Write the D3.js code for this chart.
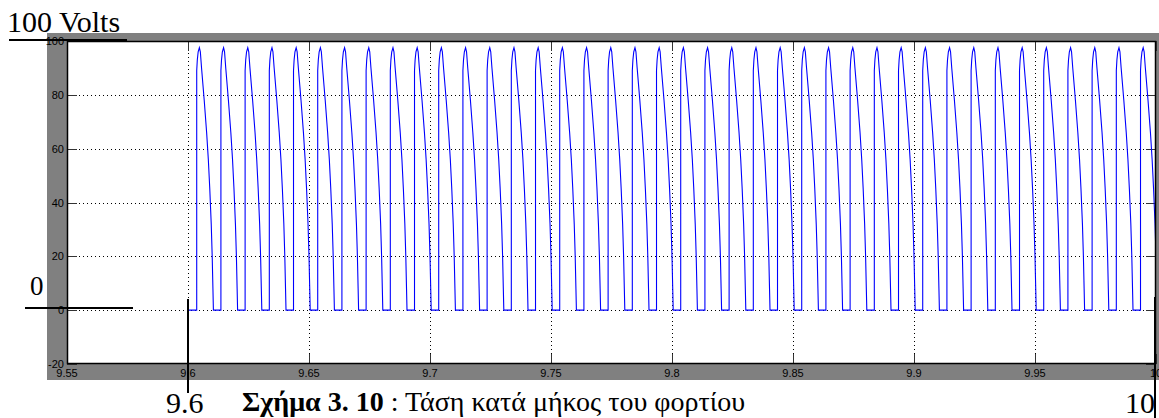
<!DOCTYPE html>
<html lang="el">
<head>
<meta charset="utf-8">
<title>Τάση κατά μήκος του φορτίου</title>
<script src="https://d3js.org/d3.v7.min.js"></script>
<style>
  body { margin: 0; background: #fff; }
  .tick-label { font-family: "Liberation Sans", Arial, sans-serif; font-size: 11px; fill: #000; }
  .note { font-family: "Liberation Serif", "Times New Roman", serif; fill: #000; }
</style>
</head>
<body>
<script>
var xTicks = [9.55, 9.6, 9.65, 9.7, 9.75, 9.8, 9.85, 9.9, 9.95, 10];
var xTickLabels = ["9.55", "9.6", "9.65", "9.7", "9.75", "9.8", "9.85", "9.9", "9.95", "10"];
var yTicks = [-20, 0, 20, 40, 60, 80, 100];
var yTickLabels = ["-20", "0", "20", "40", "60", "80", "100"];

// instant each voltage pulse rises (s)
var pulseOnsets = [
  9.6036, 9.6136, 9.6236, 9.6336, 9.6436, 9.6536, 9.6636, 9.6736, 9.6836, 9.6936,
  9.7036, 9.7136, 9.7236, 9.7336, 9.7436, 9.7536, 9.7636, 9.7736, 9.7836, 9.7936,
  9.8036, 9.8136, 9.8236, 9.8336, 9.8436, 9.8536, 9.8636, 9.8736, 9.8836, 9.8936,
  9.9036, 9.9136, 9.9236, 9.9336, 9.9436, 9.9536, 9.9636, 9.9736, 9.9836, 9.9936
];
// one pulse: [seconds after onset, volts]
var pulseShape = [
  [0, 0], [0, 89], [0.00025, 93], [0.0006, 96], [0.0011, 97.5], [0.0015, 96],
  [0.002, 90], [0.0031, 78], [0.0041, 66], [0.0048, 56], [0.0054, 45],
  [0.006, 32], [0.0064, 20], [0.0067, 8], [0.0069, 0]
];
var traceStart = 9.6, traceEnd = 10;

var width = 1159, height = 418;
var frame = { left: 47, top: 33, right: 1159, bottom: 380 };
var plot = { left: 67, top: 41, right: 1156, bottom: 364 };

var svg = d3.select("body").append("svg")
    .attr("width", width)
    .attr("height", height);

var x = d3.scaleLinear().domain([9.55, 10]).range([plot.left, plot.right]);
var y = d3.scaleLinear().domain([-20, 100]).range([plot.bottom, plot.top]);

// grey figure background and white axes area
svg.append("rect")
    .attr("x", frame.left).attr("y", frame.top)
    .attr("width", frame.right - frame.left).attr("height", frame.bottom - frame.top)
    .attr("fill", "#808080");
svg.append("rect")
    .attr("x", plot.left).attr("y", plot.top)
    .attr("width", plot.right - plot.left).attr("height", plot.bottom - plot.top)
    .attr("fill", "#fff");

// dotted grid
var grid = svg.append("g").attr("stroke", "#000").attr("stroke-width", 1)
    .attr("stroke-dasharray", "1,3").attr("shape-rendering", "crispEdges");
grid.selectAll(".gx").data(xTicks.slice(1, -1)).enter().append("line")
    .attr("x1", d => Math.round(x(d)) + 0.5).attr("x2", d => Math.round(x(d)) + 0.5)
    .attr("y1", plot.top).attr("y2", plot.bottom);
grid.selectAll(".gy").data(yTicks.slice(1, -1)).enter().append("line")
    .attr("y1", d => Math.round(y(d)) + 0.5).attr("y2", d => Math.round(y(d)) + 0.5)
    .attr("x1", plot.left).attr("x2", plot.right);

// inward ticks on all four sides
var tickLen = 10;
var ticks = svg.append("g").attr("stroke", "#333").attr("stroke-width", 1)
    .attr("shape-rendering", "crispEdges");
xTicks.forEach(function(d) {
  var px = Math.round(x(d)) + 0.5;
  ticks.append("line").attr("x1", px).attr("x2", px).attr("y1", plot.bottom).attr("y2", plot.bottom - tickLen);
  ticks.append("line").attr("x1", px).attr("x2", px).attr("y1", plot.top).attr("y2", plot.top + tickLen);
});
yTicks.forEach(function(d) {
  var py = Math.round(y(d)) + 0.5;
  ticks.append("line").attr("y1", py).attr("y2", py).attr("x1", plot.left).attr("x2", plot.left + tickLen);
  ticks.append("line").attr("y1", py).attr("y2", py).attr("x1", plot.right).attr("x2", plot.right - tickLen);
});

// signal
svg.append("clipPath").attr("id", "clip").append("rect")
    .attr("x", plot.left).attr("y", plot.top)
    .attr("width", plot.right - plot.left).attr("height", plot.bottom - plot.top);

var trace = [[traceStart, 0]];
pulseOnsets.forEach(function(t0) {
  pulseShape.forEach(function(p) { trace.push([t0 + p[0], p[1]]); });
});
trace.push([traceEnd, 0]);

var line = d3.line().x(d => x(d[0])).y(d => y(d[1]));
svg.append("path")
    .datum(trace)
    .attr("clip-path", "url(#clip)")
    .attr("fill", "none")
    .attr("stroke", "#0000ff")
    .attr("stroke-width", 1.1)
    .attr("d", line);

// axes box
svg.append("rect")
    .attr("x", plot.left + 0.5).attr("y", plot.top + 0.5)
    .attr("width", plot.right - plot.left - 1).attr("height", plot.bottom - plot.top - 1)
    .attr("fill", "none").attr("stroke", "#000").attr("stroke-width", 1.5);

// tick labels
svg.selectAll(".xl").data(xTicks).enter().append("text")
    .attr("class", "tick-label")
    .attr("x", d => x(d)).attr("y", plot.bottom + 13)
    .attr("text-anchor", "middle")
    .text((d, i) => xTickLabels[i]);
svg.selectAll(".yl").data(yTicks).enter().append("text")
    .attr("class", "tick-label")
    .attr("x", plot.left - 3).attr("y", d => y(d) + 4)
    .attr("text-anchor", "end")
    .text((d, i) => yTickLabels[i]);

// document annotations drawn over the figure
var notes = svg.append("g").attr("stroke", "#000").attr("stroke-width", 2);
notes.append("line").attr("x1", 9).attr("x2", 127).attr("y1", 40).attr("y2", 40);
notes.append("line").attr("x1", 25).attr("x2", 133).attr("y1", 308).attr("y2", 308);
notes.append("line").attr("x1", 188).attr("x2", 188).attr("y1", 299).attr("y2", 393);
notes.append("line").attr("x1", 1155).attr("x2", 1155).attr("y1", 297).attr("y2", 418);

svg.append("text").attr("class", "note").attr("x", 7).attr("y", 32)
    .style("font-size", "30px").text("100 Volts");
svg.append("text").attr("class", "note").attr("x", 30).attr("y", 295)
    .style("font-size", "27px").text("0");
svg.append("text").attr("class", "note").attr("x", 166).attr("y", 413)
    .style("font-size", "30px").text("9.6");
svg.append("text").attr("class", "note").attr("x", 1155).attr("y", 413)
    .attr("text-anchor", "end").style("font-size", "30px").text("10");

var caption = svg.append("text").attr("class", "note").attr("x", 242).attr("y", 411)
    .style("font-size", "28px");
caption.append("tspan").style("font-weight", "bold").text("Σχήμα 3. 10");
caption.append("tspan").text(" : Τάση κατά μήκος του φορτίου");
</script>
</body>
</html>
